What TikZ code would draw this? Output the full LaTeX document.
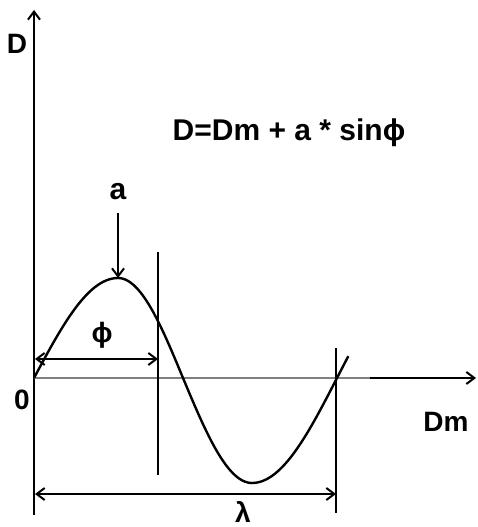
\documentclass[tikz,border=0pt]{standalone}
\usepackage{fontspec}
\setmainfont{Liberation Sans}
\usetikzlibrary{arrows.meta}
\tikzset{lbl/.style={font=\fontsize{28}{30}\selectfont\bfseries}}
\begin{document}
\begin{tikzpicture}[x=1pt,y=1pt,line width=2pt,>={Straight Barb[length=8pt,width=12pt]}]
\useasboundingbox (-34,-149) rectangle (444,378);
\coordinate (O) at (0,0);
\draw[->] (0,-137)--(0,368);
\draw[gray] (O)--(336,0); \draw[->] (336,0)--(442,0);
% the wave
\draw[line width=2.4pt] plot[domain=0:90,samples=30] ({84*\x/90},{100*sin(\x)})
  -- plot[domain=90:180,samples=30] ({84+65*(\x-90)/90},{100*sin(\x)})
  -- plot[domain=180:270,samples=30] ({149+69*(\x-180)/90},{105*sin(\x)})
  -- plot[domain=270:372,samples=35] ({218+85*(\x-270)/90},{105*sin(\x)});
\coordinate (peak) at (84,100);
\draw (124,126)--(124,-97); \draw (302,30)--(302,-135);
\coordinate (p1) at (1,19); \coordinate (p2) at (124,19);
\coordinate (l1) at (1,-116); \coordinate (l2) at (302,-116);
\draw[<->] (p1)--(p2);
\draw[<->] (l1)--(l2);
\node[lbl] (D) at (-17,334) {D};
\node[lbl] (zero) at (-12,-22) {0};
\node[lbl] (Dm) at (412,-44) {Dm};
\node[lbl,font=\fontsize{30}{32}\selectfont\bfseries] (eq) at (255,245) {D=Dm + a * sinϕ};
\node[lbl,font=\fontsize{30}{32}\selectfont\bfseries] (a) at (84,186) {a};
\node[lbl] (phi) at (68,43) {ϕ};
\node[lbl] (lam) at (209,-134) {λ};
\draw[->] (84,165)--(peak);
\end{tikzpicture}
\end{document}
